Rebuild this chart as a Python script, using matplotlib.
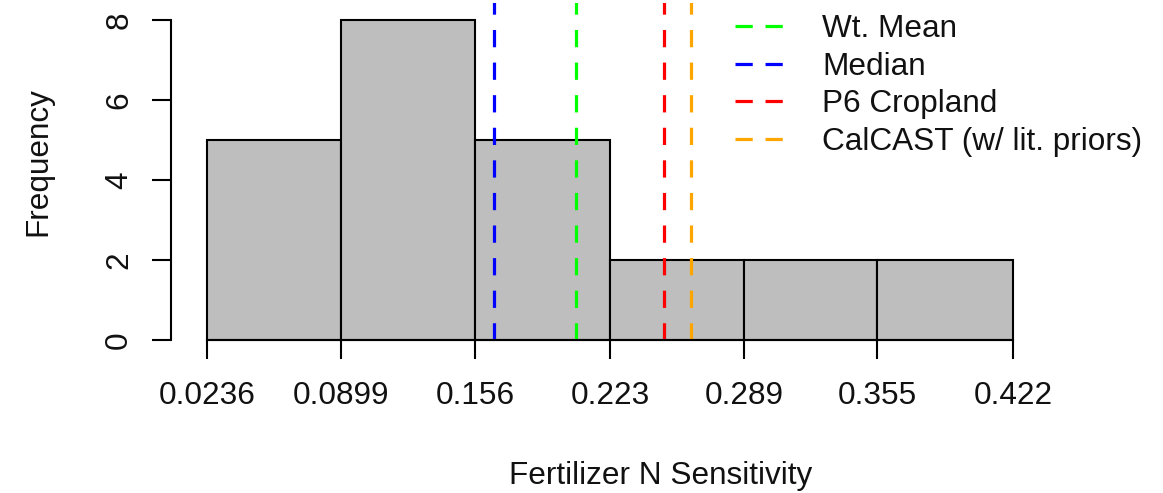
import numpy as np
import matplotlib.pyplot as plt

plt.rcParams['font.family'] = ['Liberation Sans', 'DejaVu Sans']

# histogram bins and counts
bin_edges = [0.0236, 0.0899, 0.156, 0.223, 0.289, 0.355, 0.422]
tick_labels = ["0.0236", "0.0899", "0.156", "0.223", "0.289", "0.355", "0.422"]
counts = [5, 8, 5, 2, 2, 2]

# reference lines
ref_names = ["Wt. Mean", "Median", "P6 Cropland", "CalCAST (w/ lit. priors)"]
ref_values = [0.206, 0.1655, 0.2495, 0.263]
ref_colors = ["#00FF00", "#0000FF", "#FF0000", "#FFA500"]

W, H = 1163, 493
fs = 22.7


def main():
    fig = plt.figure(figsize=(W / 100, H / 100), dpi=100)
    ax = fig.add_axes([171 / W, (H - 352.8) / H, 980 / W, 349.8 / H])

    edges = np.array(bin_edges)
    ax.bar(edges[:-1], counts, width=np.diff(edges), align='edge',
           color='#BEBEBE', edgecolor='black', linewidth=1.5, zorder=1)

    for v, c in zip(ref_values, ref_colors):
        ax.plot([v, v], [0, 8.6], color=c, linewidth=2.3,
                linestyle=(0, (5.4, 4.8)), zorder=2)

    ax.set_xlim(0.00581, 0.4902)
    ax.set_ylim(-0.32, 8.425)

    for s in ['top', 'right']:
        ax.spines[s].set_visible(False)
    ax.spines['bottom'].set_position(('data', 0))
    ax.spines['bottom'].set_bounds(bin_edges[0], bin_edges[-1])
    ax.spines['left'].set_bounds(0, 8)
    ax.spines['bottom'].set_linewidth(1.5)
    ax.spines['left'].set_linewidth(1.5)

    ax.set_xticks(bin_edges)
    ax.set_xticklabels(tick_labels)
    ax.set_yticks([0, 2, 4, 6, 8])
    ax.tick_params(axis='x', length=13.5, width=1.5, pad=16, labelsize=fs,
                   labelcolor='#111111')
    ax.tick_params(axis='y', length=13.5, width=1.5, pad=13, labelsize=fs,
                   labelrotation=90, labelcolor='#111111')
    for lab in ax.get_yticklabels():
        lab.set_va('center')

    fig.text(661 / W, 1 - 476 / H, "Fertilizer N Sensitivity", fontsize=fs,
             ha='center', va='center', color='#111111')
    fig.text(38 / W, 1 - 162 / H, "Frequency", fontsize=fs, rotation=90,
             ha='center', va='center', color='#111111')

    handles = [plt.Line2D([], [], color=c, linewidth=2.3, linestyle=(0, (5.4, 4.0)))
               for c in ref_colors]
    fig.legend(handles, ref_names, loc='upper left', bbox_to_anchor=(735 / W, 1 - 14 / H),
               frameon=False, fontsize=fs, borderpad=0, borderaxespad=0,
               handlelength=1.52, handletextpad=1.24, labelspacing=0.24,
               labelcolor='#111111')

    fig.savefig("out.png", dpi=100)


if __name__ == '__main__':
    main()
